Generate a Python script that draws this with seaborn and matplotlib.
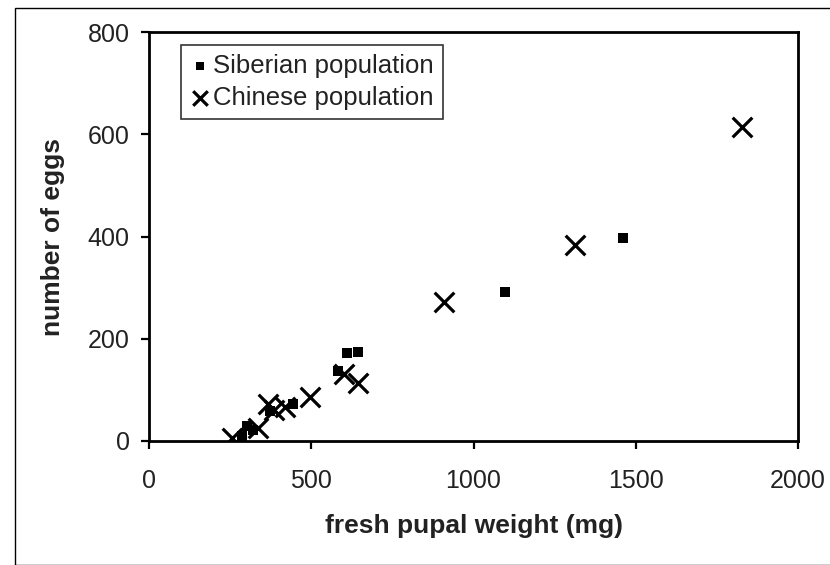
import matplotlib
matplotlib.use("Agg")
import matplotlib.pyplot as plt
import seaborn as sns
import pandas as pd
from matplotlib.patches import Rectangle

sib_weight = [286, 301, 321, 373, 445, 583, 609, 645, 1098, 1462]
sib_eggs = [10, 30, 22, 58, 72, 137, 172, 175, 292, 398]
chi_weight = [255, 337, 368, 385, 419, 496, 600, 645, 908, 1312, 1827]
chi_eggs = [5, 25, 72, 60, 67, 87, 132, 113, 272, 384, 615]
x_ticks = [0, 500, 1000, 1500, 2000]
y_ticks = [0, 200, 400, 600, 800]

sns.set_theme(style="white")
plt.rcParams['font.family'] = ['Liberation Sans', 'DejaVu Sans']

sib = pd.DataFrame({"w": sib_weight, "e": sib_eggs})
chi = pd.DataFrame({"w": chi_weight, "e": chi_eggs})

fig = plt.figure(figsize=(8.30, 5.65), dpi=100)
ax = fig.add_axes([149/830, 1-441/565, (798-149)/830, (441-32)/565])

sns.scatterplot(data=sib, x="w", y="e", marker="s", color="black", s=45,
                linewidth=0, ax=ax, label="Siberian population")
sns.scatterplot(data=chi, x="w", y="e", marker="x", color="black", s=200,
                linewidth=2.3, ax=ax, label="Chinese population")

ax.set_xlim(0, 2000)
ax.set_ylim(0, 800)
ax.set_xticks(x_ticks)
ax.set_yticks(y_ticks)
ax.tick_params(axis="both", direction="out", length=6, width=1.6,
               labelsize=18, color="black", labelcolor="#222222",
               bottom=True, left=True)
ax.tick_params(axis="x", pad=14)
ax.tick_params(axis="y", pad=8)
for sp in ax.spines.values():
    sp.set_color("black")
    sp.set_linewidth(2.0)
ax.set_xlabel("fresh pupal weight (mg)", fontsize=19, fontweight="bold",
              color="#222222", labelpad=15)
ax.set_ylabel("number of eggs", fontsize=19, fontweight="bold",
              color="#222222", labelpad=16)

leg = ax.legend(loc="upper left", bbox_to_anchor=(0.049, 0.968), fontsize=18.5,
                frameon=True, fancybox=False, edgecolor="black",
                handletextpad=0.1, borderpad=0.35, labelspacing=0.3,
                handlelength=0.8, borderaxespad=0)
leg.get_frame().set_linewidth(1.2)
for t in leg.get_texts():
    t.set_color("#222222")
handles = leg.legend_handles
handles[0].set_sizes([40])
handles[1].set_sizes([110])

fig.patches.append(Rectangle((15/830, 0), 1, 1-8/565, transform=fig.transFigure,
                             fill=False, edgecolor="black", linewidth=1.0))

fig.savefig("out.png", dpi=100)
